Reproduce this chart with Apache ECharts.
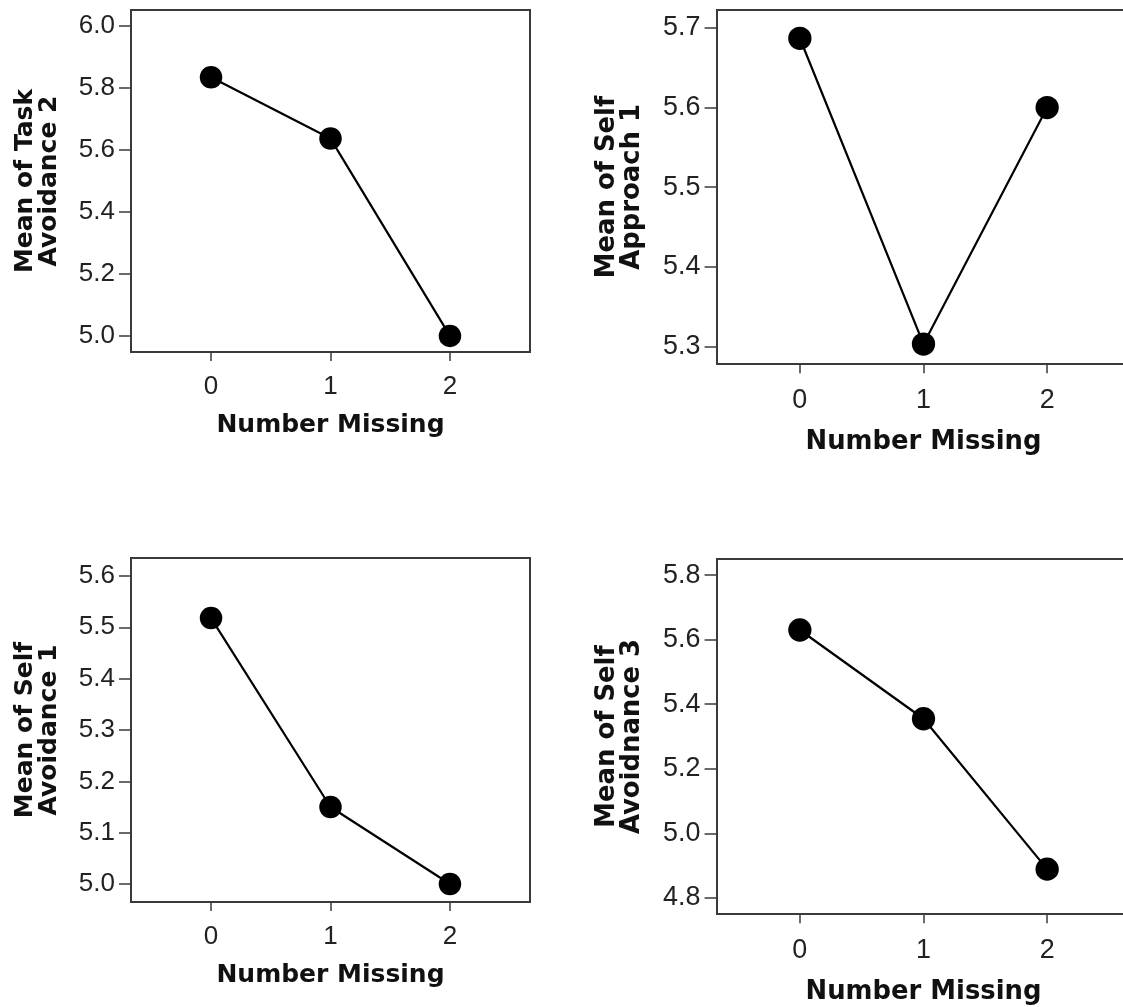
<!DOCTYPE html>
<html>
<head>
<meta charset="utf-8">
<title>Means by Number Missing</title>
<script src="https://cdn.jsdelivr.net/npm/echarts@6/dist/echarts.min.js"></script>
<style>
  html, body { margin: 0; padding: 0; background: #ffffff; overflow: hidden; }
  #chart { width: 1123px; height: 1007px; }
</style>
</head>
<body>
<div id="chart"></div>
<script>
// Group means of four items, split by how many responses were missing.
const numberMissing = [0, 1, 2];

const taskAvoidance2 = [5.835, 5.637, 5.000];
const selfApproach1 = [5.687, 5.303, 5.600];
const selfAvoidance1 = [5.518, 5.150, 5.000];
const selfAvoidnance3 = [5.630, 5.355, 4.889];

// Tick values shown on each y axis
const ticksTaskAvoidance2 = [5.0, 5.2, 5.4, 5.6, 5.8, 6.0];
const ticksSelfApproach1 = [5.3, 5.4, 5.5, 5.6, 5.7];
const ticksSelfAvoidance1 = [5.0, 5.1, 5.2, 5.3, 5.4, 5.5, 5.6];
const ticksSelfAvoidnance3 = [4.8, 5.0, 5.2, 5.4, 5.6, 5.8];

// The right-hand column is drawn a little larger than the left one.
const panels = [
  { title: 'Mean of Task\nAvoidance 2', values: taskAvoidance2, ticks: ticksTaskAvoidance2,
    range: [4.948, 6.052], scale: 1, box: { left: 131, top: 10, width: 399, height: 342 } },
  { title: 'Mean of Self\nApproach 1', values: selfApproach1, ticks: ticksSelfApproach1,
    range: [5.278, 5.7225], scale: 1.035, box: { left: 717, top: 10, width: 413, height: 354 } },
  { title: 'Mean of Self\nAvoidance 1', values: selfAvoidance1, ticks: ticksSelfAvoidance1,
    range: [4.965, 5.635], scale: 1, box: { left: 131, top: 558, width: 399, height: 344 } },
  { title: 'Mean of Self\nAvoidnance 3', values: selfAvoidnance3, ticks: ticksSelfAvoidnance3,
    range: [4.75, 5.85], scale: 1.035, box: { left: 717, top: 559, width: 413, height: 355 } }
];

const frameColor = '#3a3a3a';
const tickColor = '#222222';
const titleColor = '#111111';

const grids = [], xAxes = [], yAxes = [], series = [];

panels.forEach((p, i) => {
  const s = p.scale;
  const tickFont = { fontFamily: 'Liberation Sans', fontSize: 26 * s, color: tickColor };
  const titleFont = { fontFamily: 'DejaVu Sans', fontWeight: 'bold', fontSize: 25 * s, color: titleColor };

  grids.push(Object.assign({
    show: true,
    backgroundColor: 'transparent',
    borderColor: frameColor,
    borderWidth: 2,
    containLabel: false,
    outerBoundsMode: 'none'
  }, p.box));

  xAxes.push({
    type: 'value',
    gridIndex: i,
    min: -0.67,
    max: 2.67,
    name: 'Number Missing',
    nameLocation: 'middle',
    nameGap: s > 1 ? 65 : 61,
    nameTextStyle: titleFont,
    axisLine: { show: true, onZero: false, lineStyle: { color: frameColor, width: 2 } },
    axisTick: { show: true, length: 9 * s, customValues: numberMissing,
                lineStyle: { color: frameColor, width: 1.5 } },
    axisLabel: Object.assign({ margin: s > 1 ? 23 : 22, customValues: numberMissing,
                               formatter: v => String(Math.round(v)) }, tickFont),
    splitLine: { show: false }
  });

  yAxes.push({
    type: 'value',
    gridIndex: i,
    min: p.range[0],
    max: p.range[1],
    name: p.title,
    nameLocation: 'middle',
    nameRotate: 90,
    nameGap: 70 * s,
    nameTextStyle: Object.assign({ lineHeight: 24 * s, align: 'center' }, titleFont),
    axisLine: { show: true, onZero: false, lineStyle: { color: frameColor, width: 2 } },
    axisTick: { show: true, length: 12 * s, customValues: p.ticks,
                lineStyle: { color: frameColor, width: 1.5 } },
    axisLabel: Object.assign({ margin: 16 * s, customValues: p.ticks,
                               formatter: v => v.toFixed(1) }, tickFont),
    splitLine: { show: false }
  });

  series.push({
    type: 'line',
    xAxisIndex: i,
    yAxisIndex: i,
    data: numberMissing.map((x, k) => [x, p.values[k]]),
    symbol: 'circle',
    symbolSize: 22.5 * s,
    showAllSymbol: true,
    lineStyle: { color: '#000000', width: 2.2 },
    itemStyle: { color: '#000000' },
    emphasis: { disabled: true },
    animation: false,
    z: 3
  });
});

const chart = echarts.init(document.getElementById('chart'), null, { renderer: 'canvas' });
chart.setOption({
  animation: false,
  backgroundColor: '#ffffff',
  grid: grids,
  xAxis: xAxes,
  yAxis: yAxes,
  series: series
});
</script>
</body>
</html>
